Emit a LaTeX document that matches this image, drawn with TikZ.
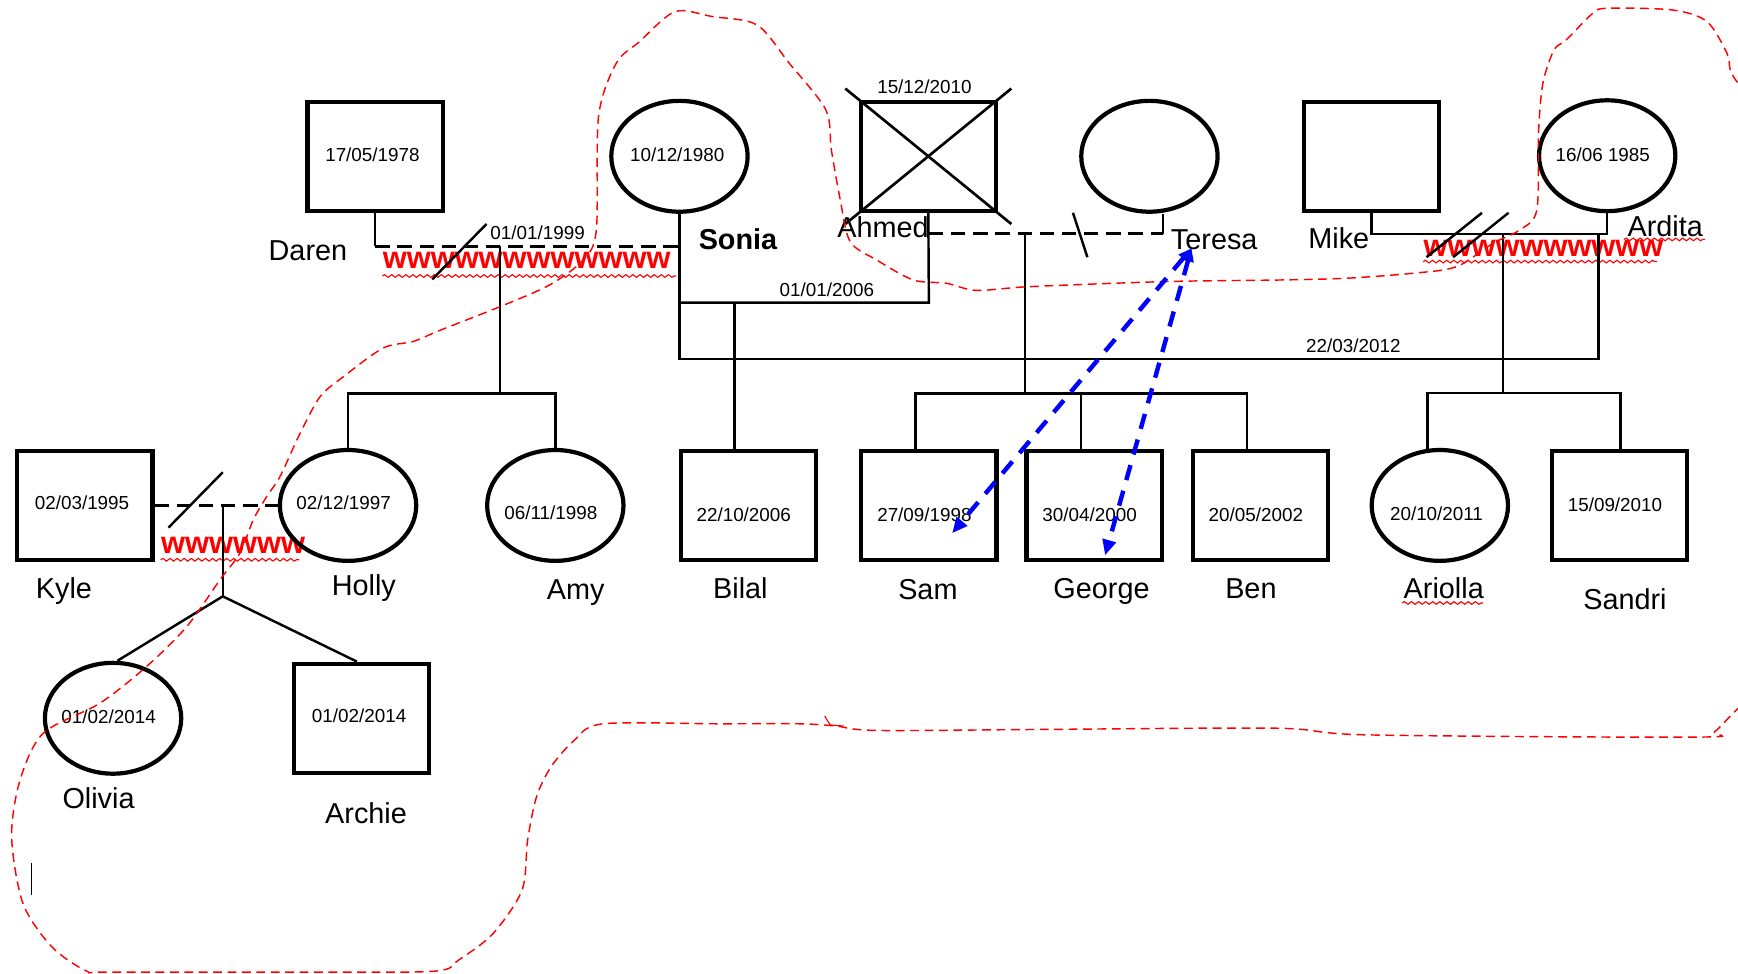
\documentclass[tikz,border=0pt]{standalone}
\usepackage{fontspec}
\setmainfont{Liberation Sans}
\usetikzlibrary{shapes.geometric,arrows.meta,decorations.pathmorphing,calc}
\begin{document}
\begin{tikzpicture}[x=0.5pt,y=-0.5pt,
  sq/.style={draw,line width=1.9pt,minimum width=61pt,minimum height=49.2pt,inner sep=0pt},
  el/.style={ellipse,draw,line width=1.9pt,minimum width=61.5pt,minimum height=50pt,inner sep=0pt},
  dt/.style={font=\fontsize{8.5}{10}\selectfont,inner sep=0pt},
  nm/.style={font=\fontsize{13}{15}\selectfont,anchor=base west,inner sep=0pt},
  ln/.style={line width=1.1pt},
  dl/.style={line width=1.35pt,dash pattern=on 6.5pt off 3.5pt},
  ww/.style={font=\bfseries\fontsize{13.9}{15}\selectfont,text=red,anchor=base west,inner sep=0pt},
  wavy/.style={red,line width=0.5pt,decorate,decoration={snake,amplitude=0.6pt,segment length=3.2pt}},
  redloop/.style={red,line width=0.65pt,dash pattern=on 4pt off 2.5pt},
  blu/.style={blue,line width=2pt,dash pattern=on 7pt off 5pt,{Triangle[length=6pt,width=5pt]}-{Triangle[length=7pt,width=6pt]}}
]
\useasboundingbox (0,0) rectangle (1568,878);
\fill[white] (0,0) rectangle (1568,878);

% ---------- red spelling marks (below lines) ----------
\node[ww] (w1) at (345,242) {wwwwwwwwwwww};
\node[ww] (w2) at (145,499) {wwwwww};
\node[ww] (w3) at (1284,231.6) {wwwwwwwwww};
\draw[wavy] (345,249) -- (610,249);
\draw[wavy] (145,505) -- (270,505);
\draw[wavy] (1284,236) -- (1495,236);
\draw[wavy] (1465,216) -- (1538,216);
\draw[wavy] (1265,544) -- (1338,544);

% ---------- people ----------
\node[sq] (daren)  at (338.5,141) {};
\node[el] (sonia)  at (613,141) {};
\node[sq] (ahmed)  at (837.5,141) {};
\node[el] (teresa) at (1037,141) {};
\node[sq] (mike)   at (1237.5,141) {};
\node[el] (ardita) at (1450,140.5) {};

\node[sq] (kyle)    at (76.5,456) {};
\node[el] (holly)   at (314,456) {};
\node[el] (amy)     at (501,456) {};
\node[sq] (bilal)   at (675.5,456) {};
\node[sq] (sam)     at (838,456) {};
\node[sq] (george)  at (987,456) {};
\node[sq] (ben)     at (1137,456) {};
\node[el] (ariolla) at (1299,456) {};
\node[sq] (sandri)  at (1461,456) {};
\node[el] (olivia)  at (102,648) {};
\node[sq] (archie)  at (326,648) {};

% deceased cross
\draw[line width=1.2pt] ($(ahmed.north west)+(-12,-10)$) -- ($(ahmed.south east)+(12,10)$);
\draw[line width=1.2pt] ($(ahmed.north east)+(12,-10)$) -- ($(ahmed.south west)+(-12,10)$);

% ---------- dates ----------
\node[dt] (d1) at (336,140) {17/05/1978};
\node[dt] (d2) at (611,140) {10/12/1980};
\node[dt] (d3) at (834,78) {15/12/2010};
\node[dt] (d4) at (1446,140) {16/06 1985};
\node[dt] (d5) at (485,210) {01/01/1999};
\node[dt] (d6) at (746,261) {01/01/2006};
\node[dt] (d7) at (1221,312) {22/03/2012};
\node[dt] (d8) at (74,454) {02/03/1995};
\node[dt] (d9) at (310,454) {02/12/1997};
\node[dt] (d10) at (497,463) {06/11/1998};
\node[dt] (d11) at (671,464) {22/10/2006};
\node[dt] (d12) at (834,464) {27/09/1998};
\node[dt] (d13) at (983,464) {30/04/2000};
\node[dt] (d14) at (1133,464) {20/05/2002};
\node[dt] (d15) at (1296,463.5) {20/10/2011};
\node[dt] (d16) at (1457,455) {15/09/2010};
\node[dt] (d17) at (98,646.5) {01/02/2014};
\node[dt] (d18) at (324,646) {01/02/2014};

% ---------- names ----------
\node[nm] (n1) at (242,235) {Daren};
\node[nm,font=\bfseries\fontsize{13}{15}\selectfont] (n2) at (630,225) {Sonia};
\node[nm] (n3) at (755,214) {Ahmed};
\node[nm] (n4) at (1056,225) {Teresa};
\node[nm] (n5) at (1180,224) {Mike};
\node[nm] (n6) at (1468,213.5) {Ardita};
\node[nm] (n7) at (32,540) {Kyle};
\node[nm] (n8) at (299,537) {Holly};
\node[nm] (n9) at (493,541) {Amy};
\node[nm] (n10) at (643,540) {Bilal};
\node[nm] (n11) at (810,541) {Sam};
\node[nm] (n12) at (950,540) {George};
\node[nm] (n13) at (1105,540) {Ben};
\node[nm] (n14) at (1266,540) {Ariolla};
\node[nm] (n15) at (1428,550) {Sandri};
\node[nm] (n16) at (56,729) {Olivia};
\node[nm] (n17) at (293,743) {Archie};

% ---------- Daren - Sonia ----------
\coordinate (j1) at (338.5,222);
\coordinate (j2) at (613,222);
\coordinate (j3) at (451,222);
\coordinate (j4) at (451,355);
\draw[ln] (daren.south) -- (j1);
\draw[dl] (j1) -- (j2);
\draw[ln] (j3) -- (j4);
\draw[ln] (holly.north) |- (j4) -| (amy.north);
\coordinate (x1a) at (390,252); \coordinate (x1b) at (439,202);
\draw[ln] (x1a) -- (x1b);

% ---------- Sonia - Ahmed / Sonia - Ardita ----------
\coordinate (s1) at (613,273);
\coordinate (s2) at (613,324);
\coordinate (a1) at (838,273);
\coordinate (b1) at (662.5,273);
\coordinate (r1) at (1442,324);
\coordinate (r2) at (1442,211);
\draw[ln] (sonia.south) -- (s2) -- (r1) -- (r2);
\draw[ln] (s1) -- (a1) -- (ahmed.south);
\draw[ln] (b1) -- (b1 |- bilal.north);

% ---------- Ahmed - Teresa ----------
\coordinate (t1) at (838,211);
\coordinate (t2) at (1049,211);
\coordinate (t3) at (924.5,211);
\coordinate (t4) at (924.5,355);
\draw[dl] (t1) -- (t2);
\draw[ln] (t2) -- (t2 |- teresa.south);
\draw[ln] (t3) -- (t4);
\coordinate (sb1) at (826,355);
\coordinate (sb2) at (1125,355);
\coordinate (sb3) at (975,355);
\draw[ln] (sb1 |- sam.north) -- (sb1) -- (sb2) -- (sb2 |- ben.north);
\draw[ln] (sb3) -- (sb3 |- george.north);
\coordinate (x2a) at (968,192); \coordinate (x2b) at (981,232);
\draw[ln] (x2a) -- (x2b);

% ---------- Mike - Ardita ----------
\coordinate (m2) at (1450,211);
\draw[ln] (mike.south) |- (m2) -- (ardita.south);
\coordinate (m3) at (1356,211);
\coordinate (m4) at (1356,354.5);
\coordinate (ab1) at (1288,354.5);
\coordinate (ab2) at (1462,354.5);
\coordinate (ab3) at (1288,407);
\draw[ln] (m3) -- (m4);
\draw[ln] (ab3) -- (ab1) -- (ab2) -- (ab2 |- sandri.north);
\coordinate (x3a) at (1287,232); \coordinate (x3b) at (1337,192);
\coordinate (x4a) at (1311,232); \coordinate (x4b) at (1361,192);
\draw[ln] (x3a) -- (x3b);
\draw[ln] (x4a) -- (x4b);

% ---------- Kyle - Holly ----------
\coordinate (k1) at (201,456);
\coordinate (k2) at (201,538);
\draw[dl] (kyle.east) -- (holly.west);
\draw[ln] (k1) -- (k2);
\draw[ln] (k2) -- ($(olivia.north)+(4,0)$);
\draw[ln] (k2) -- ($(archie.north)+(-4,0)$);
\coordinate (x5a) at (152,476); \coordinate (x5b) at (201,426);
\draw[ln] (x5a) -- (x5b);

% text cursor
\coordinate (c1) at (28.5,779); \coordinate (c2) at (28.5,807);
\draw[line width=0.4pt] (c1) -- (c2);

% ---------- red freehand loop ----------
\begin{scope}
\clip (0,0) rectangle (1568,878);
\draw[redloop] plot[smooth, tension=0.5] coordinates {
(1590,620) (1566,641) (1547,660) (1531,665) (1234,663) (1153,657) (950,658)
(792,659) (754,655) (722,653) (650,653) (544,653) (518,668) (497,692)
(484,719) (476,758) (471,803) (445,842) (414,866) (394,876) (300,877)
(100,877) (78,876) (46.6,854) (20.7,815) (10.5,755) (18,704) (39,661.5)
(90,634.5) (132,601.5) (168.4,565.4) (198.5,523) (216.5,499) (228.5,469)
(240.6,448) (252.6,430) (270.7,391) (288.7,358) (309.6,340) (345.7,314)
(373,308) (397,298) (451,276.7) (496,257) (526,234.6) (538,207.5)
(540,105) (556,57) (577,37.5) (609,10.5) (643,15) (683,22.5) (712,57)
(745,99) (750,135) (758,180) (767,218) (791,234.6) (824,252.6) (854,255.6)
(881,262) (929,258.6) (1052,254) (1155,252.6) (1215,251) (1275,246.5)
(1314,240.6) (1347,219.5) (1371,207.5) (1386.5,189.5) (1388,120) (1392,75)
(1402,45) (1413,36) (1437,12) (1450,7.5) (1509,9) (1540,19.5) (1558,48)
(1561,63) (1568,75) (1590,100)};
\end{scope}
\coordinate (q1) at (744,646); \coordinate (q2) at (749,654); \coordinate (q3) at (761,655);
\draw[red,line width=0.5pt] (q1) -- (q2) -- (q3);

% ---------- blue arrows ----------
\coordinate (bs) at (1075,224);
\coordinate (btip1) at (859,481);
\coordinate (btip2) at (997,501);
\draw[blu] (bs) -- (btip1);
\draw[blu] (bs) -- (btip2);
\end{tikzpicture}
\end{document}
